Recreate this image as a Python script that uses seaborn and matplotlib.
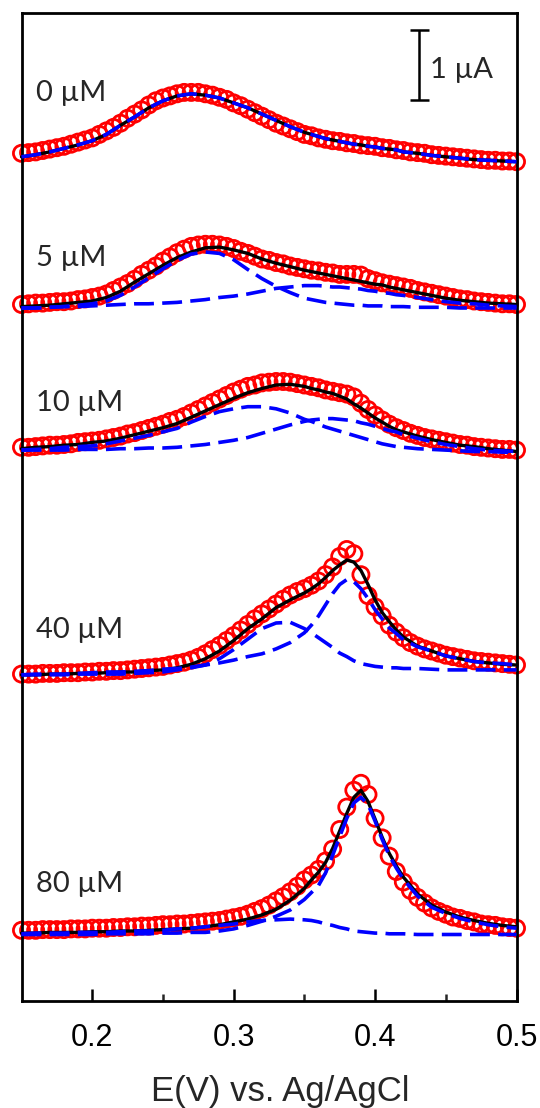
import numpy as np
import seaborn as sns
import matplotlib.pyplot as plt

# potential axis (V): measured points every 5 mV, fitted curves on a finer grid near the peaks
x_data = np.round(np.arange(0.15, 0.5001, 0.005), 3)
x_fit = [0.15, 0.16, 0.17, 0.18, 0.19, 0.20, 0.21, 0.22, 0.23, 0.24, 0.25, 0.26, 0.27, 0.28,
         0.29, 0.30, 0.31, 0.32, 0.33, 0.34, 0.35, 0.355, 0.36, 0.365, 0.37, 0.375, 0.38,
         0.385, 0.39, 0.395, 0.40, 0.405, 0.41, 0.415, 0.42, 0.43, 0.44, 0.45, 0.46, 0.47,
         0.48, 0.49, 0.50]

labels = ["0 µM", "5 µM", "10 µM", "40 µM", "80 µM"]
offsets = [11.97, 9.89, 7.84, 4.66, 0.94]   # vertical stacking (µA)

# measured currents (µA)
i_0 = [0.14, 0.15, 0.16, 0.18, 0.20, 0.22, 0.24, 0.27, 0.30, 0.33,
       0.36, 0.41, 0.46, 0.51, 0.57, 0.64, 0.70, 0.76, 0.83, 0.89,
       0.93, 0.96, 0.99, 1.01, 1.01, 1.01, 0.99, 0.97, 0.94, 0.91,
       0.86, 0.82, 0.77, 0.72, 0.67, 0.62, 0.57, 0.53, 0.49, 0.45,
       0.41, 0.39, 0.36, 0.34, 0.32, 0.31, 0.29, 0.28, 0.26, 0.25,
       0.24, 0.22, 0.21, 0.19, 0.18, 0.16, 0.15, 0.14, 0.12, 0.11,
       0.10, 0.09, 0.08, 0.07, 0.06, 0.05, 0.04, 0.04, 0.03, 0.03, 0.02]
i_5 = [0.06, 0.07, 0.08, 0.08, 0.09, 0.10, 0.10, 0.11, 0.13, 0.14,
       0.16, 0.18, 0.21, 0.26, 0.31, 0.36, 0.42, 0.49, 0.55, 0.61,
       0.68, 0.74, 0.80, 0.85, 0.89, 0.91, 0.92, 0.92, 0.91, 0.89,
       0.86, 0.82, 0.79, 0.75, 0.71, 0.69, 0.66, 0.64, 0.61, 0.59,
       0.57, 0.55, 0.54, 0.52, 0.51, 0.49, 0.49, 0.49, 0.48, 0.43,
       0.40, 0.37, 0.35, 0.33, 0.31, 0.29, 0.26, 0.24, 0.22, 0.20,
       0.18, 0.16, 0.14, 0.13, 0.11, 0.10, 0.09, 0.08, 0.07, 0.07, 0.06]
i_10 = [0.07, 0.07, 0.08, 0.09, 0.10, 0.10, 0.11, 0.12, 0.14, 0.15,
        0.16, 0.17, 0.19, 0.21, 0.23, 0.26, 0.28, 0.31, 0.34, 0.37,
        0.40, 0.44, 0.47, 0.51, 0.56, 0.61, 0.66, 0.71, 0.76, 0.81,
        0.86, 0.90, 0.94, 0.96, 0.99, 1.00, 1.01, 1.01, 1.00, 0.98,
        0.96, 0.94, 0.92, 0.89, 0.87, 0.85, 0.83, 0.79, 0.70, 0.61,
        0.53, 0.46, 0.40, 0.35, 0.31, 0.27, 0.24, 0.21, 0.19, 0.17,
        0.15, 0.13, 0.11, 0.10, 0.08, 0.07, 0.06, 0.05, 0.04, 0.04, 0.03]
i_40 = [0.01, 0.01, 0.01, 0.02, 0.02, 0.02, 0.03, 0.03, 0.03, 0.04,
        0.04, 0.05, 0.05, 0.06, 0.06, 0.07, 0.08, 0.09, 0.10, 0.11,
        0.12, 0.14, 0.16, 0.18, 0.21, 0.25, 0.30, 0.36, 0.42, 0.49,
        0.56, 0.64, 0.72, 0.80, 0.87, 0.94, 1.01, 1.08, 1.14, 1.19,
        1.23, 1.28, 1.34, 1.43, 1.54, 1.69, 1.79, 1.73, 1.43, 1.13,
        0.97, 0.84, 0.71, 0.61, 0.53, 0.46, 0.41, 0.37, 0.34, 0.31,
        0.28, 0.26, 0.24, 0.22, 0.20, 0.19, 0.18, 0.17, 0.16, 0.15, 0.14]
i_80 = [0.07, 0.07, 0.07, 0.08, 0.08, 0.08, 0.08, 0.09, 0.09, 0.09,
        0.10, 0.10, 0.10, 0.11, 0.11, 0.12, 0.12, 0.13, 0.13, 0.14,
        0.15, 0.15, 0.16, 0.16, 0.17, 0.18, 0.19, 0.20, 0.21, 0.23,
        0.25, 0.27, 0.30, 0.34, 0.38, 0.43, 0.49, 0.55, 0.62, 0.70,
        0.79, 0.86, 0.94, 1.06, 1.23, 1.51, 1.83, 2.07, 2.17, 2.01,
        1.67, 1.39, 1.13, 0.91, 0.76, 0.64, 0.54, 0.46, 0.39, 0.34,
        0.30, 0.26, 0.24, 0.21, 0.19, 0.16, 0.15, 0.14, 0.12, 0.11, 0.10]

# total fits (µA)
fit_0 = [0.09, 0.12, 0.16, 0.21, 0.26, 0.32, 0.41, 0.54, 0.66, 0.79, 0.89, 0.96, 0.99, 0.97,
         0.93, 0.86, 0.79, 0.70, 0.61, 0.52, 0.44, 0.41, 0.38, 0.35, 0.33, 0.31, 0.29,
         0.27, 0.26, 0.24, 0.23, 0.21, 0.20, 0.19, 0.16, 0.14, 0.11, 0.09, 0.07, 0.05,
         0.04, 0.03, 0.02]
fit_5 = [0.03, 0.04, 0.05, 0.07, 0.09, 0.11, 0.16, 0.25, 0.38, 0.50, 0.62, 0.73, 0.81, 0.87,
         0.88, 0.84, 0.79, 0.71, 0.65, 0.60, 0.55, 0.53, 0.51, 0.49, 0.47, 0.45, 0.43,
         0.41, 0.39, 0.37, 0.35, 0.34, 0.31, 0.29, 0.27, 0.23, 0.19, 0.15, 0.12, 0.10,
         0.08, 0.07, 0.06]
fit_10 = [0.05, 0.07, 0.08, 0.10, 0.11, 0.14, 0.16, 0.20, 0.25, 0.30, 0.35, 0.41, 0.50, 0.59,
          0.68, 0.77, 0.85, 0.91, 0.96, 0.97, 0.94, 0.91, 0.89, 0.86, 0.84, 0.80, 0.76,
          0.69, 0.63, 0.56, 0.49, 0.43, 0.37, 0.32, 0.29, 0.23, 0.18, 0.14, 0.10, 0.08,
          0.05, 0.03, 0.01]
fit_40 = [0.00, 0.00, 0.01, 0.01, 0.02, 0.02, 0.03, 0.04, 0.04, 0.06, 0.07, 0.10, 0.15, 0.23,
          0.34, 0.49, 0.66, 0.80, 0.96, 1.07, 1.17, 1.23, 1.30, 1.39, 1.49, 1.57, 1.64,
          1.61, 1.49, 1.29, 1.07, 0.89, 0.76, 0.64, 0.54, 0.41, 0.34, 0.27, 0.23, 0.19,
          0.17, 0.15, 0.14]
fit_80 = [0.03, 0.03, 0.04, 0.04, 0.04, 0.05, 0.05, 0.06, 0.06, 0.07, 0.08, 0.09, 0.10, 0.12,
          0.15, 0.19, 0.23, 0.29, 0.37, 0.50, 0.67, 0.79, 0.90, 1.04, 1.24, 1.49, 1.74,
          1.97, 2.07, 1.91, 1.66, 1.40, 1.17, 0.99, 0.83, 0.59, 0.43, 0.33, 0.26, 0.21,
          0.17, 0.14, 0.12]

# deconvoluted peak components (µA)
comp_5a = [0.01, 0.01, 0.02, 0.03, 0.05, 0.07, 0.11, 0.19, 0.31, 0.44, 0.57, 0.69, 0.78, 0.81,
           0.79, 0.70, 0.56, 0.43, 0.32, 0.23, 0.15, 0.13, 0.11, 0.09, 0.08, 0.07, 0.06,
           0.05, 0.05, 0.04, 0.04, 0.04, 0.03, 0.03, 0.03, 0.02, 0.02, 0.02, 0.01, 0.01,
           0.01, 0.01, 0.01]
comp_5b = [0.01, 0.01, 0.02, 0.03, 0.03, 0.04, 0.05, 0.06, 0.07, 0.07, 0.08, 0.09, 0.11, 0.13,
           0.16, 0.18, 0.21, 0.25, 0.29, 0.31, 0.33, 0.33, 0.33, 0.32, 0.31, 0.31, 0.30,
           0.29, 0.28, 0.26, 0.25, 0.23, 0.22, 0.20, 0.19, 0.16, 0.13, 0.10, 0.08, 0.07,
           0.05, 0.04, 0.03]
comp_10a = [0.03, 0.04, 0.05, 0.07, 0.08, 0.09, 0.12, 0.16, 0.20, 0.24, 0.29, 0.34, 0.43, 0.51,
            0.58, 0.62, 0.65, 0.65, 0.62, 0.56, 0.47, 0.44, 0.40, 0.36, 0.33, 0.30, 0.27,
            0.24, 0.21, 0.18, 0.15, 0.12, 0.10, 0.08, 0.07, 0.05, 0.04, 0.03, 0.02, 0.01,
            0.01, 0.00, 0.00]
comp_10b = [0.03, 0.03, 0.03, 0.03, 0.04, 0.04, 0.04, 0.05, 0.05, 0.06, 0.06, 0.07, 0.09, 0.11,
            0.14, 0.17, 0.21, 0.27, 0.33, 0.39, 0.44, 0.46, 0.47, 0.48, 0.48, 0.47, 0.46,
            0.45, 0.42, 0.40, 0.37, 0.34, 0.31, 0.29, 0.25, 0.20, 0.15, 0.11, 0.08, 0.05,
            0.03, 0.02, 0.01]
comp_40a = [0.00, 0.00, 0.00, 0.00, 0.01, 0.01, 0.01, 0.01, 0.02, 0.03, 0.04, 0.07, 0.10, 0.14,
            0.23, 0.36, 0.51, 0.66, 0.74, 0.75, 0.66, 0.60, 0.53, 0.46, 0.39, 0.31, 0.26,
            0.20, 0.16, 0.14, 0.12, 0.11, 0.10, 0.10, 0.09, 0.09, 0.08, 0.07, 0.07, 0.07,
            0.07, 0.07, 0.07]
comp_40b = [0.00, 0.01, 0.01, 0.01, 0.02, 0.03, 0.04, 0.04, 0.05, 0.06, 0.08, 0.09, 0.11, 0.14,
            0.17, 0.21, 0.26, 0.30, 0.37, 0.46, 0.60, 0.71, 0.84, 1.00, 1.16, 1.29, 1.36,
            1.33, 1.23, 1.09, 0.93, 0.80, 0.67, 0.59, 0.50, 0.40, 0.34, 0.27, 0.23, 0.19,
            0.17, 0.16, 0.14]
comp_80a = [0.01, 0.01, 0.01, 0.01, 0.01, 0.01, 0.02, 0.02, 0.02, 0.02, 0.03, 0.03, 0.04, 0.04,
            0.06, 0.09, 0.14, 0.20, 0.27, 0.36, 0.51, 0.61, 0.71, 0.89, 1.14, 1.41, 1.67,
            1.89, 1.97, 1.87, 1.63, 1.37, 1.14, 0.96, 0.80, 0.56, 0.40, 0.31, 0.24, 0.19,
            0.15, 0.12, 0.10]
comp_80b = [0.02, 0.03, 0.03, 0.03, 0.04, 0.04, 0.04, 0.05, 0.06, 0.06, 0.07, 0.09, 0.10, 0.12,
            0.14, 0.16, 0.19, 0.21, 0.22, 0.23, 0.22, 0.21, 0.19, 0.16, 0.14, 0.11, 0.09,
            0.06, 0.05, 0.04, 0.03, 0.03, 0.02, 0.02, 0.02, 0.01, 0.01, 0.01, 0.01, 0.01,
            0.01, 0.01, 0.01]

measured = [i_0, i_5, i_10, i_40, i_80]
fits = [fit_0, fit_5, fit_10, fit_40, fit_80]
components = [[fit_0], [comp_5a, comp_5b], [comp_10a, comp_10b],
              [comp_40a, comp_40b], [comp_80a, comp_80b]]

label_y = [12.85, 10.50, 8.43, 5.19, 1.56]

sns.set_style("ticks")
plt.rcParams["font.family"] = ["Liberation Sans", "DejaVu Sans"]
label_font = ["Lato", "DejaVu Sans"]

fig = plt.figure(figsize=(5.4, 11.08), dpi=100)
ax = fig.add_axes([21.5 / 540, 107 / 1108, 495 / 540, 988 / 1108])

for data, fit, comps, off in zip(measured, fits, components, offsets):
    sns.scatterplot(x=x_data, y=np.array(data) + off, ax=ax, marker="o", s=135,
                    facecolors="none", edgecolor="red", linewidth=2.0,
                    clip_on=False, zorder=2)
    sns.lineplot(x=x_fit, y=np.array(fit) + off, ax=ax, color="black", linewidth=2.4,
                 errorbar=None, zorder=3, clip_on=False)
    for c in comps:
        sns.lineplot(x=x_fit, y=np.array(c) + off, ax=ax, color="blue", linewidth=2.6,
                     linestyle=(0, (5.5, 2.3)), errorbar=None, zorder=4, clip_on=False)

for lab, ly in zip(labels, label_y):
    ax.text(0.160, ly, lab, fontsize=21, family=label_font, ha="left", va="baseline")

# 1 µA scale bar
bar_x, bar_y0, bar_len = 0.4311, 12.87, 1.0
ax.vlines(bar_x, bar_y0, bar_y0 + bar_len, color="black", lw=1.8)
ax.hlines([bar_y0, bar_y0 + bar_len], bar_x - 0.0067, bar_x + 0.0067, color="black", lw=1.8)
ax.text(0.4389, 13.18, "1 µA", fontsize=21, family=label_font, ha="left", va="baseline")

ax.set_xlim(0.15, 0.5)
ax.set_ylim(0, 988 / 70)
ax.set_yticks([])
ax.set_xticks([0.2, 0.3, 0.4, 0.5])
ax.set_xticklabels(["0.2", "0.3", "0.4", "0.5"])
ax.set_xticks([0.25, 0.35, 0.45], minor=True)
ax.tick_params(axis="x", which="major", direction="in", length=9, width=1.8,
               pad=16, labelsize=22, colors="black")
ax.tick_params(axis="x", which="minor", direction="in", length=5, width=1.8)
for sp in ax.spines.values():
    sp.set_visible(True)
    sp.set_linewidth(2)
    sp.set_color("black")

ax.set_xlabel("E(V) vs. Ag/AgCl", fontsize=25)
ax.xaxis.set_label_coords(0.522, -0.075)
ax.set_ylabel("")

fig.savefig("out.png", dpi=100)
